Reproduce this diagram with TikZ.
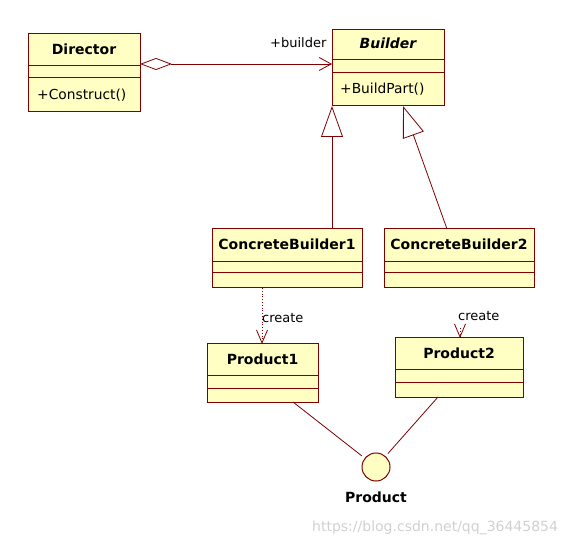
\documentclass[tikz,border=0pt]{standalone}
\usepackage{fontspec}
\setmainfont{DejaVu Sans}
\usetikzlibrary{arrows.meta}
\definecolor{umlfill}{RGB}{255,255,196}
\definecolor{umlline}{RGB}{128,0,0}
\begin{document}
\begin{tikzpicture}[x=1pt,y=-1pt,
  box/.style={draw=umlline, fill=umlfill, line width=1pt, inner sep=0pt, outer sep=0pt},
  sep/.style={draw=umlline, line width=1pt},
  ttl/.style={font=\fontsize{14}{16}\selectfont\bfseries, inner sep=0pt, anchor=base},
  op/.style={font=\fontsize{13.8}{15}\selectfont, inner sep=0pt, anchor=base west},
  lbl/.style={font=\fontsize{13}{15}\selectfont, inner sep=0pt, anchor=base west},
  conn/.style={draw=umlline, line width=0.8pt},
  gen/.style={conn, -{Triangle[open,length=31pt,width=22pt,line width=0.8pt]}},
  agg/.style={conn, {Diamond[open,length=32pt,width=12pt,line width=0.8pt]}-{Straight Barb[length=12pt,width=13pt,line width=0.8pt]}},
  dep/.style={conn, dotted, -{Straight Barb[length=13pt,width=11pt,line width=0.8pt]}},
]
\useasboundingbox[fill=white] (0,0) rectangle (565,545);

% Director
\node[box, minimum width=112pt, minimum height=78pt] (director) at (84,73) {};
\draw[sep] (director.west |- 0,66) -- (director.east |- 0,66);
\draw[sep] (director.west |- 0,78) -- (director.east |- 0,78);
\node[ttl] (directorT) at (84,55) {Director};
\node[op] (directorO) at (37,100) {+Construct()};

% Builder
\node[box, minimum width=112pt, minimum height=76pt] (builder) at (388,68) {};
\draw[sep] (builder.west |- 0,60) -- (builder.east |- 0,60);
\draw[sep] (builder.west |- 0,73) -- (builder.east |- 0,73);
\node[ttl, font=\fontsize{14}{16}\selectfont\bfseries\itshape] (builderT) at (388,49) {Builder};
\node[op] (builderO) at (340,94) {+BuildPart()};

% ConcreteBuilder1
\node[box, minimum width=150pt, minimum height=59pt] (cb1) at (287,258.5) {};
\draw[sep] (cb1.west |- 0,262) -- (cb1.east |- 0,262);
\draw[sep] (cb1.west |- 0,273) -- (cb1.east |- 0,273);
\node[ttl] (cb1T) at (287,250) {ConcreteBuilder1};

% ConcreteBuilder2
\node[box, minimum width=150pt, minimum height=59pt] (cb2) at (459,258.5) {};
\draw[sep] (cb2.west |- 0,262) -- (cb2.east |- 0,262);
\draw[sep] (cb2.west |- 0,273) -- (cb2.east |- 0,273);
\node[ttl] (cb2T) at (459,250) {ConcreteBuilder2};

% Product1
\node[box, minimum width=111pt, minimum height=58pt] (p1) at (262.5,373) {};
\draw[sep] (p1.west |- 0,375) -- (p1.east |- 0,375);
\draw[sep] (p1.west |- 0,388) -- (p1.east |- 0,388);
\node[ttl] (p1T) at (262.5,364) {Product1};

% Product2
\node[box, minimum width=128pt, minimum height=59pt] (p2) at (459,367.5) {};
\draw[sep] (p2.west |- 0,369) -- (p2.east |- 0,369);
\draw[sep] (p2.west |- 0,382) -- (p2.east |- 0,382);
\node[ttl] (p2T) at (459,359) {Product2};

% Interface lollipop
\node[box, circle, minimum size=28pt] (iface) at (376,467) {};
\node[ttl] (ifaceT) at (376,502) {Product};

% Aggregation
\draw[agg] (director.east |- 0,64) -- (builder.west |- 0,64);
\node[lbl] (rolelbl) at (270,48) {+builder};

% Generalizations
\coordinate (g2) at (403,106);
\draw[gen] (cb1.north -| 332,0) -- (builder.south -| 332,0);
\draw[gen] (cb2.north -| 447,0) -- (g2);

% Create dependencies
\draw[dep] (cb1.south -| 262,0) -- (p1.north -| 262,0);
\node[lbl] (cr1) at (262,323) {create};
\coordinate (c2) at (460,328);
\draw[dep] (c2) -- (p2.north -| 460,0);
\node[lbl] (cr2) at (458,320) {create};

% Realization lines
\draw[conn, shorten >=4pt] (p1.south -| 293,0) -- (iface);
\draw[conn, shorten >=4pt] (p2.south -| 438,0) -- (iface);

% watermark
\node[font=\fontsize{14}{16}\selectfont, text=black!18, inner sep=0pt, anchor=base west] (wm) at (312,531) {https://blog.csdn.net/qq\_36445854};
\end{tikzpicture}
\end{document}
